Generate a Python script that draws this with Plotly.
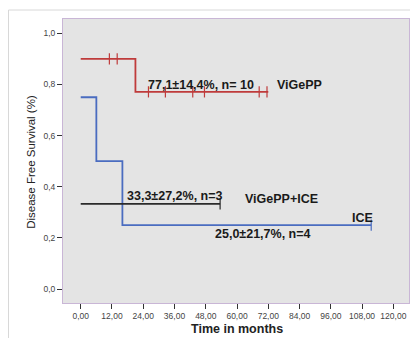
import plotly.graph_objects as go

# ---- data ----
vigepp_t = [0, 21, 72]
vigepp_s = [0.9, 0.771, 0.771]
vigepp_cens_t = [11, 14, 26, 32.5, 43, 47.5, 68.5, 71.5]
vigepp_cens_s = [0.9, 0.9, 0.771, 0.771, 0.771, 0.771, 0.771, 0.771]

ice_t = [0, 6, 16, 111.5]
ice_s = [0.75, 0.5, 0.25, 0.25]
ice_cens_t = [111.5]
ice_cens_s = [0.25]

combo_t = [0, 53.5]
combo_s = [0.333, 0.333]
combo_cens_t = [53.5]
combo_cens_s = [0.333]

x_tickvals = [0, 12, 24, 36, 48, 60, 72, 84, 96, 108, 120]
x_ticktext = ["0,00", "12,00", "24,00", "36,00", "48,00", "60,00", "72,00",
              "84,00", "96,00", "108,00", "120,00"]
y_tickvals = [0, 0.2, 0.4, 0.6, 0.8, 1.0]
y_ticktext = ["0,0", "0,2", "0,4", "0,6", "0,8", "1,0"]

labels = [
    ("77,1±14,4%, n= 10", 46.1, 0.798),
    ("ViGePP", 83.8, 0.798),
    ("33,3±27,2%, n=3", 36.2, 0.364),
    ("ViGePP+ICE", 76.9, 0.353),
    ("ICE", 108.3, 0.276),
    ("25,0±21,7%, n=4", 70.0, 0.216),
]

RED = "#bf3b3b"
BLUE = "#4a6cc0"
BLACK = "#2a2a2a"
FONT = "Liberation Sans, Arial"

fig = go.Figure()
for t, s, ct, cs, col in [
    (vigepp_t, vigepp_s, vigepp_cens_t, vigepp_cens_s, RED),
    (ice_t, ice_s, ice_cens_t, ice_cens_s, BLUE),
    (combo_t, combo_s, combo_cens_t, combo_cens_s, BLACK),
]:
    fig.add_trace(go.Scatter(x=t, y=s, mode="lines", line=dict(color=col, width=1.8, shape="hv"),
                             showlegend=False, hoverinfo="skip"))
    fig.add_trace(go.Scatter(x=ct, y=cs, mode="markers",
                             marker=dict(symbol="line-ns", size=8, line=dict(color=col, width=1.2)),
                             showlegend=False, hoverinfo="skip"))

for txt, x, y in labels:
    fig.add_annotation(x=x, y=y, text=txt, showarrow=False, xref="x", yref="y",
                       xanchor="center", yanchor="middle",
                       font=dict(family=FONT, size=12.5, color="#1a1a1a", weight="bold"))

L, R, T, B = 63, 409, 19, 303.3
W, H = 410, 338
pw, ph = R - L, B - T

def px2paper_x(px):
    return (px - L) / pw

def py2paper_y(py):
    return (B - py) / ph

# outer light frame
fig.add_shape(type="line", xref="paper", yref="paper",
              x0=px2paper_x(8.5), x1=px2paper_x(8.5), y0=py2paper_y(10), y1=py2paper_y(345),
              line=dict(color="#d8d8d8", width=1))
fig.add_shape(type="line", xref="paper", yref="paper",
              x0=px2paper_x(8.5), x1=px2paper_x(420), y0=py2paper_y(10), y1=py2paper_y(10),
              line=dict(color="#d8d8d8", width=1))

# axis titles as annotations (fixed pixel positions)
fig.add_annotation(x=px2paper_x(237), y=py2paper_y(329), xref="paper", yref="paper",
                   xanchor="center", yanchor="middle",
                   text="Time in months", showarrow=False,
                   font=dict(family=FONT, size=12.5, color="#222", weight="bold"))
fig.add_annotation(x=px2paper_x(31), y=py2paper_y(162), xref="paper", yref="paper",
                   xanchor="center", yanchor="middle",
                   text="Disease Free Survival (%)", showarrow=False, textangle=-90,
                   font=dict(family=FONT, size=11.5, color="#222"))

fig.update_layout(
    width=W, height=H,
    margin=dict(l=L, r=W - R, t=T, b=H - B, pad=0, autoexpand=False),
    paper_bgcolor="white",
    plot_bgcolor="#e4e4e4",
    font=dict(family=FONT, color="#333333"),
    xaxis=dict(range=[-6.8, 126.0], tickvals=x_tickvals, ticktext=x_ticktext,
               ticks="outside", ticklen=5, tickwidth=1, tickcolor="#333",
               tickfont=dict(size=8.5, color="#444"), automargin=False,
               showgrid=False, zeroline=False,
               showline=True, linecolor="#c9b6d6", linewidth=1, mirror=True),
    yaxis=dict(range=[-0.0547, 1.056], tickvals=y_tickvals, ticktext=y_ticktext,
               ticks="outside", ticklen=5, tickwidth=1, tickcolor="#333",
               tickfont=dict(size=8.5, color="#444"), automargin=False,
               showgrid=False, zeroline=False,
               showline=True, linecolor="#c9b6d6", linewidth=1, mirror=True),
)

fig.write_html("out.html", config={"displayModeBar": False},
               post_script="document.body.style.margin='0';document.body.style.overflow='hidden';")
